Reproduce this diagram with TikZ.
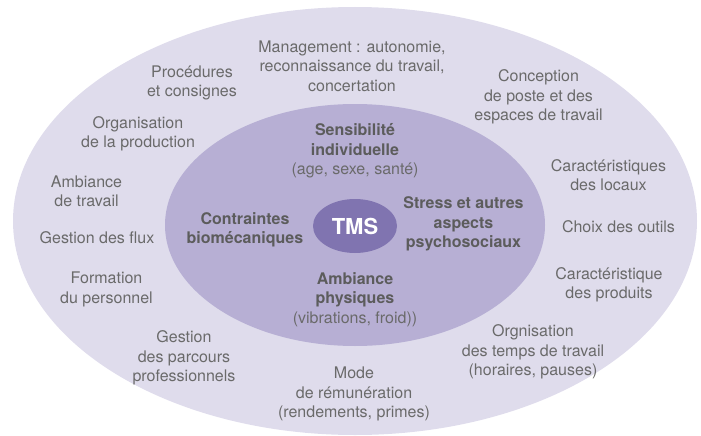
\documentclass[tikz,border=0pt]{standalone}
\usepackage{fontspec}
\usetikzlibrary{shapes.geometric}
\setmainfont{TeX Gyre Heros}
\definecolor{outerc}{HTML}{DFDCEC}
\definecolor{innerc}{HTML}{B7AFD4}
\definecolor{tmsc}{HTML}{8074B0}
\definecolor{txt}{HTML}{6A6A6A}
\definecolor{txtb}{HTML}{5C5C5C}
\tikzset{
  lbl/.style={align=center, text=txt, inner sep=0pt, font=\fontsize{16}{19.3}\selectfont},
  blbl/.style={align=center, text=txtb, inner sep=0pt, font=\fontsize{16}{19.3}\selectfont\bfseries},
}
\begin{document}
\begin{tikzpicture}[x=1pt,y=-1pt]
\useasboundingbox (0,0) rectangle (701,436);
\fill[outerc] (355,221) ellipse [x radius=342, y radius=214];
\fill[innerc] (355,225) ellipse [x radius=190, y radius=121];
\node[fill=tmsc, ellipse, minimum width=84, minimum height=54, inner sep=0pt, text=white, font=\fontsize{22}{24}\selectfont\bfseries] (tms) at (355,226) {TMS};
% outer ring labels
\node[lbl] (mgmt) at (352,66) {Management : autonomie,\\reconnaissance du travail,\\concertation};
\node[lbl] (proc) at (192,83) {Procédures\\et consignes};
\node[lbl] (org) at (138,134) {Organisation\\de la production};
\node[lbl] (amb) at (86.5,191) {Ambiance\\de travail};
\node[lbl] (flux) at (97,238) {Gestion des flux};
\node[lbl] (form) at (106.5,289.5) {Formation\\du personnel};
\node[lbl] (gest) at (184,358) {Gestion\\des parcours\\professionnels};
\node[lbl] (mode) at (354,394) {Mode\\de rémunération\\(rendements, primes)};
\node[lbl] (orgn) at (533,352) {Orgnisation\\des temps de travail\\(horaires, pauses)};
\node[lbl] (prod) at (609,284.5) {Caractéristique\\des produits};
\node[lbl] (outils) at (618.5,227) {Choix des outils};
\node[lbl] (locaux) at (608.5,175) {Caractéristiques\\des locaux};
\node[lbl] (concep) at (538.5,97) {Conception\\de poste et des\\espaces de travail};
% inner ring labels
\node[lbl] (sens) at (355,151) {\textbf{\color{txtb}Sensibilité}\\\textbf{\color{txtb}individuelle}\\(age, sexe, santé)};
\node[blbl] (contr) at (245,229.5) {Contraintes\\biomécaniques};
\node[blbl] (stress) at (463.5,224) {Stress et autres\\aspects\\psychosociaux};
\node[lbl] (ambp) at (355,299.5) {\textbf{\color{txtb}Ambiance}\\\textbf{\color{txtb}physiques}\\(vibrations, froid))};
\end{tikzpicture}
\end{document}
